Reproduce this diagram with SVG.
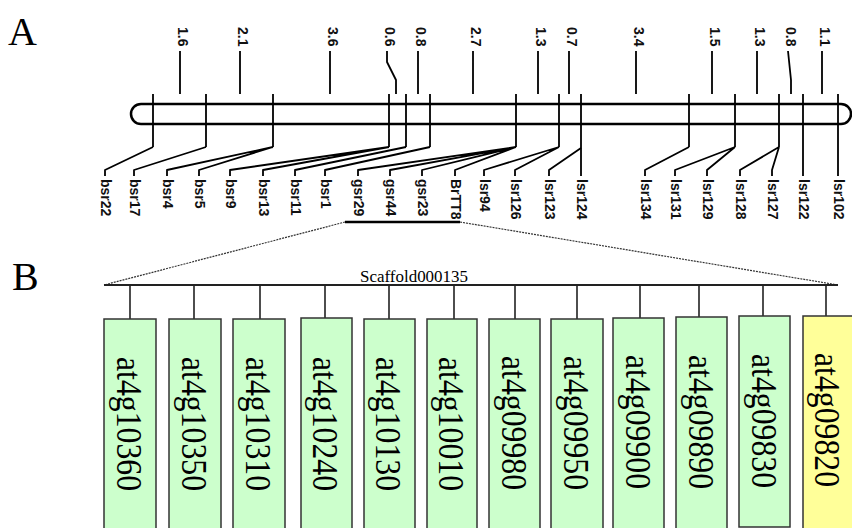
<svg xmlns="http://www.w3.org/2000/svg" width="852" height="528" viewBox="0 0 852 528">
<style>
.ln{fill:none;stroke:#000;stroke-width:1.8;stroke-linejoin:round}
.chr{fill:none;stroke:#000;stroke-width:2.5}
.num{font-family:"Liberation Sans",Arial,sans-serif;font-size:14px;font-weight:bold;fill:#111}
.lab{font-family:"Liberation Sans",Arial,sans-serif;font-size:14px;font-weight:bold;fill:#111}
.big{font-family:"Liberation Serif","Times New Roman",serif;font-size:40px;fill:#000}
.sc{font-family:"Liberation Serif","Times New Roman",serif;font-size:16px;fill:#000}
.dot{fill:none;stroke:#333;stroke-width:1.2;stroke-dasharray:2 1}
.box{stroke:#333;stroke-width:1.5}
.g{fill:#ccffcc}
.y{fill:#ffff99}
.gt{font-family:"Liberation Serif","Times New Roman",serif;font-size:36px;fill:#000}
.drop{stroke:#222;stroke-width:1.6}
</style>
<rect width="852" height="528" fill="#fff"/>
<text class="big" x="8" y="45">A</text>
<text class="big" x="12" y="290">B</text>

<g id="chromosome">
<rect class="chr" x="131" y="104" width="720" height="20" rx="10" ry="10"/>
</g>

<g id="connectors">
<!-- interval lines top -->
<path class="ln" d="M180 51V94M240 51V94M330 51V94M387 51V62L396 80V94M418 51V94M473 51V94M538 51V94M569 51V94M636 51V94M712 51V94M757 51V94M788 51L791 80V94M822 51V94"/>
<!-- marker ticks -->
<path class="ln" d="M153 94V147M206 94V147M273 94V147M389 94V147M406 94V147M430 94V147M516 94V147M559 94V147M581 94V176M689 94V147M735 94V147M779 94V147M803 94V176M838 94V176"/>
<!-- label connectors -->
<path class="ln" d="M153 147L105 170V176M206 147L134 170V176M273 147L167 170V176M273 147L199 170V176M389 147L230 170V176M389 147L263 170V176M406 147L295 170V176M430 147L325 170V176M516 147L358 170V176M516 147L390 170V176M516 147L422 170V176M516 147L455 170V176M559 147L484 170V176M559 147L515 170V176M581 148L549 170V176M689 147L645 170V176M735 147L675 170V176M735 147L707 170V176M779 147L740 170V176M779 147L772 170V176"/>
<!-- zoom region -->
<line x1="345" y1="222" x2="460" y2="222" stroke="#000" stroke-width="2.5"/>
<path class="dot" d="M345 222L104 285M460 222L838 285"/>
<line x1="104" y1="285" x2="838" y2="285" stroke="#222" stroke-width="2"/>
<path class="drop" d="M130 285V319M194 285V319M260 285V319M325 285V319M389 285V319M454 285V319M515 285V319M577 285V319M640 285V319M699 285V319M763 285V319M826 285V319"/>
</g>

<g id="intervals">
<text class="num" transform="translate(178,27) rotate(90)">1.6</text>
<text class="num" transform="translate(238,27) rotate(90)">2.1</text>
<text class="num" transform="translate(328,27) rotate(90)">3.6</text>
<text class="num" transform="translate(385,27) rotate(90)">0.6</text>
<text class="num" transform="translate(416,27) rotate(90)">0.8</text>
<text class="num" transform="translate(471,27) rotate(90)">2.7</text>
<text class="num" transform="translate(536,27) rotate(90)">1.3</text>
<text class="num" transform="translate(567,27) rotate(90)">0.7</text>
<text class="num" transform="translate(634,27) rotate(90)">3.4</text>
<text class="num" transform="translate(710,27) rotate(90)">1.5</text>
<text class="num" transform="translate(755,27) rotate(90)">1.3</text>
<text class="num" transform="translate(786,27) rotate(90)">0.8</text>
<text class="num" transform="translate(820,27) rotate(90)">1.1</text>
</g>

<g id="markers">
<text class="lab" transform="translate(101,179) rotate(90)">bsr22</text>
<text class="lab" transform="translate(130,179) rotate(90)">bsr17</text>
<text class="lab" transform="translate(163,179) rotate(90)">bsr4</text>
<text class="lab" transform="translate(195,179) rotate(90)">bsr5</text>
<text class="lab" transform="translate(226,179) rotate(90)">bsr9</text>
<text class="lab" transform="translate(259,179) rotate(90)">bsr13</text>
<text class="lab" transform="translate(291,179) rotate(90)">bsr11</text>
<text class="lab" transform="translate(321,179) rotate(90)">bsr1</text>
<text class="lab" transform="translate(354,179) rotate(90)">gsr29</text>
<text class="lab" transform="translate(386,179) rotate(90)">gsr44</text>
<text class="lab" transform="translate(418,179) rotate(90)">gsr23</text>
<text class="lab" transform="translate(451,179) rotate(90)">BrTT8</text>
<text class="lab" transform="translate(480,179) rotate(90)">lsr94</text>
<text class="lab" transform="translate(511,179) rotate(90)">lsr126</text>
<text class="lab" transform="translate(545,179) rotate(90)">lsr123</text>
<text class="lab" transform="translate(577,179) rotate(90)">lsr124</text>
<text class="lab" transform="translate(641,179) rotate(90)">lsr134</text>
<text class="lab" transform="translate(671,179) rotate(90)">lsr131</text>
<text class="lab" transform="translate(703,179) rotate(90)">lsr129</text>
<text class="lab" transform="translate(736,179) rotate(90)">lsr128</text>
<text class="lab" transform="translate(768,179) rotate(90)">lsr127</text>
<text class="lab" transform="translate(799,179) rotate(90)">lsr122</text>
<text class="lab" transform="translate(834,179) rotate(90)">lsr102</text>
</g>

<g id="scaffold">
<text class="sc" x="360" y="282" textLength="108" lengthAdjust="spacingAndGlyphs">Scaffold000135</text>
</g>

<g id="gene-at4g10360"><rect class="box g" x="104" y="319" width="52" height="215"/><text class="gt" transform="translate(117,357) rotate(90)" textLength="134" lengthAdjust="spacingAndGlyphs">at4g10360</text></g>
<g id="gene-at4g10350"><rect class="box g" x="169" y="319" width="52" height="215"/><text class="gt" transform="translate(182,357) rotate(90)" textLength="134" lengthAdjust="spacingAndGlyphs">at4g10350</text></g>
<g id="gene-at4g10310"><rect class="box g" x="233" y="319" width="52" height="215"/><text class="gt" transform="translate(246,357) rotate(90)" textLength="134" lengthAdjust="spacingAndGlyphs">at4g10310</text></g>
<g id="gene-at4g10240"><rect class="box g" x="301" y="318" width="51" height="215"/><text class="gt" transform="translate(313,357) rotate(90)" textLength="134" lengthAdjust="spacingAndGlyphs">at4g10240</text></g>
<g id="gene-at4g10130"><rect class="box g" x="364" y="319" width="51" height="215"/><text class="gt" transform="translate(376,357) rotate(90)" textLength="134" lengthAdjust="spacingAndGlyphs">at4g10130</text></g>
<g id="gene-at4g10010"><rect class="box g" x="427" y="319" width="50" height="215"/><text class="gt" transform="translate(439,357) rotate(90)" textLength="134" lengthAdjust="spacingAndGlyphs">at4g10010</text></g>
<g id="gene-at4g09980"><rect class="box g" x="489" y="319" width="51" height="215"/><text class="gt" transform="translate(502,356) rotate(90)" textLength="134" lengthAdjust="spacingAndGlyphs">at4g09980</text></g>
<g id="gene-at4g09950"><rect class="box g" x="551" y="319" width="52" height="215"/><text class="gt" transform="translate(564,356) rotate(90)" textLength="134" lengthAdjust="spacingAndGlyphs">at4g09950</text></g>
<g id="gene-at4g09900"><rect class="box g" x="613" y="318" width="51" height="215"/><text class="gt" transform="translate(626,355) rotate(90)" textLength="134" lengthAdjust="spacingAndGlyphs">at4g09900</text></g>
<g id="gene-at4g09890"><rect class="box g" x="676" y="317" width="51" height="215"/><text class="gt" transform="translate(689,355) rotate(90)" textLength="134" lengthAdjust="spacingAndGlyphs">at4g09890</text></g>
<g id="gene-at4g09830"><rect class="box g" x="739" y="316" width="51" height="211"/><text class="gt" transform="translate(752,354) rotate(90)" textLength="134" lengthAdjust="spacingAndGlyphs">at4g09830</text></g>
<g id="gene-at4g09820"><rect class="box y" x="803" y="316" width="55" height="215"/><text class="gt" transform="translate(815,353) rotate(90)" textLength="134" lengthAdjust="spacingAndGlyphs">at4g09820</text></g>
</svg>
